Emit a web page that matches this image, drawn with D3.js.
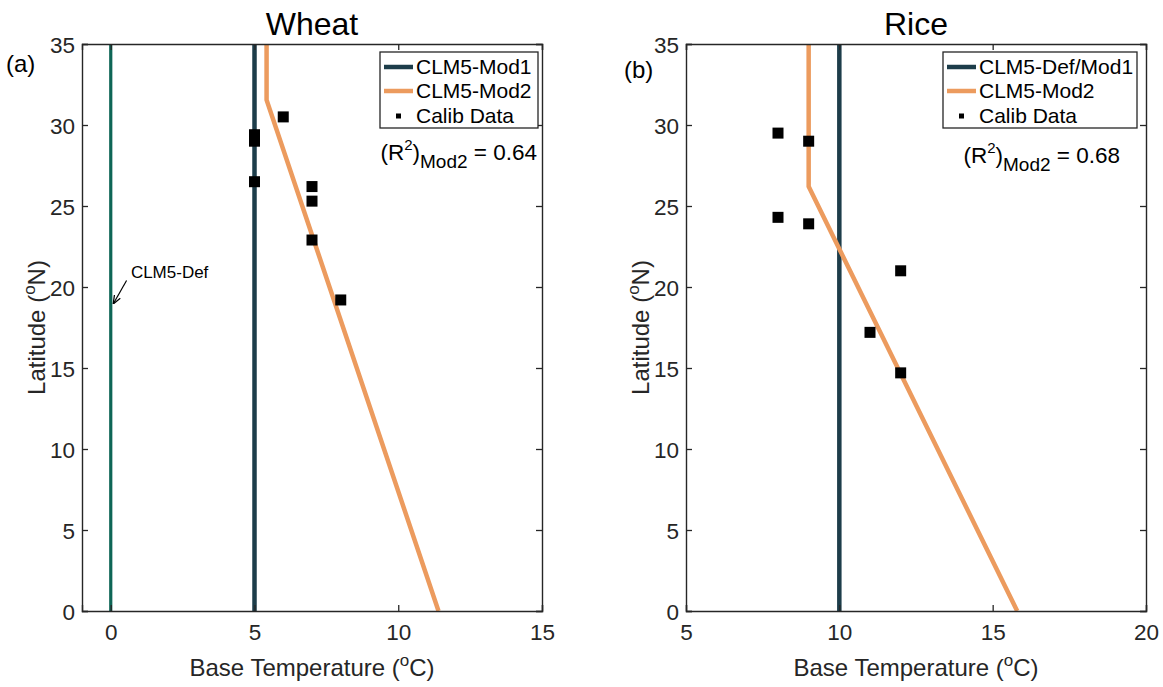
<!DOCTYPE html>
<html>
<head>
<meta charset="utf-8">
<script src="https://cdn.jsdelivr.net/npm/d3@7"></script>
<style>
  body { margin: 0; background: #fff; }
  svg text { font-family: "Liberation Sans", Arial, Helvetica, sans-serif; fill: #262626; }
</style>
</head>
<body>
<div id="chart"></div>
<script>
// Wheat
const wheatCalibTemp = [6, 5, 5, 5, 7, 7, 7, 8];
const wheatCalibLat = [30.5, 29.4, 29.0, 26.5, 26.2, 25.3, 22.9, 19.2];
const wheatMod2Temp = [5.42, 5.42, 11.4];
const wheatMod2Lat = [35, 31.55, 0];
const wheatDefTemp = 0;
const wheatMod1Temp = 5;
const wheatR2 = 0.64;

// Rice
const riceCalibTemp = [8, 9, 8, 9, 12, 11, 12];
const riceCalibLat = [29.5, 29.0, 24.3, 23.9, 21.0, 17.2, 14.7];
const riceMod2Temp = [9, 9, 15.8];
const riceMod2Lat = [35, 26.2, 0];
const riceMod1Temp = 10;
const riceR2 = 0.68;

// axes
const latTicks = [0, 5, 10, 15, 20, 25, 30, 35];
const wheatTempTicks = [0, 5, 10, 15];
const riceTempTicks = [5, 10, 15, 20];

const colors = {
  def: '#0e6656',
  mod1: '#1d3d4a',
  mod2: '#ec9b5e',
  calib: '#000000',
  axis: '#262626'
};

const width = 1163, height = 687;
const svg = d3.select('#chart').append('svg')
  .attr('width', width)
  .attr('height', height);

function drawPanel(opts) {
  const { left, right, top, bottom } = opts;
  const x = d3.scaleLinear().domain(opts.xDomain).range([left, right]);
  const y = d3.scaleLinear().domain([0, 35]).range([bottom, top]);
  const g = svg.append('g');

  // clip to the plot box
  const clipId = 'clip-' + opts.id;
  g.append('clipPath').attr('id', clipId)
    .append('rect')
    .attr('x', left).attr('y', top)
    .attr('width', right - left).attr('height', bottom - top);
  const plot = g.append('g').attr('clip-path', `url(#${clipId})`);

  // vertical reference lines
  if (opts.defTemp !== null) {
    plot.append('line')
      .attr('x1', x(opts.defTemp)).attr('x2', x(opts.defTemp))
      .attr('y1', y(0)).attr('y2', y(35))
      .attr('stroke', colors.def).attr('stroke-width', 3.2);
  }
  plot.append('line')
    .attr('x1', x(opts.mod1Temp)).attr('x2', x(opts.mod1Temp))
    .attr('y1', y(0)).attr('y2', y(35))
    .attr('stroke', colors.mod1).attr('stroke-width', 4.5);

  // Mod2 piecewise line
  const mod2 = opts.mod2Temp.map((t, i) => [t, opts.mod2Lat[i]]);
  plot.append('path')
    .datum(mod2)
    .attr('d', d3.line().x(d => x(d[0])).y(d => y(d[1])))
    .attr('fill', 'none')
    .attr('stroke', colors.mod2)
    .attr('stroke-width', 4.5)
    .attr('stroke-linejoin', 'miter');

  // calibration points
  const pts = opts.calibTemp.map((t, i) => [t, opts.calibLat[i]]);
  const ms = 11;
  plot.selectAll('rect.calib')
    .data(pts)
    .join('rect')
    .attr('class', 'calib')
    .attr('x', d => x(d[0]) - ms / 2)
    .attr('y', d => y(d[1]) - ms / 2)
    .attr('width', ms).attr('height', ms)
    .attr('fill', colors.calib);

  // axes (MATLAB box style, inward ticks)
  const tl = 6;
  const axB = g.append('g').attr('transform', `translate(0,${bottom})`)
    .call(d3.axisBottom(x).tickValues(opts.xTicks).tickSize(-tl).tickPadding(13));
  const axT = g.append('g').attr('transform', `translate(0,${top})`)
    .call(d3.axisTop(x).tickValues(opts.xTicks).tickSize(-tl).tickFormat(''));
  const axL = g.append('g').attr('transform', `translate(${left},0)`)
    .call(d3.axisLeft(y).tickValues(latTicks).tickSize(-tl).tickPadding(7));
  const axR = g.append('g').attr('transform', `translate(${right},0)`)
    .call(d3.axisRight(y).tickValues(latTicks).tickSize(-tl).tickFormat(''));
  [axB, axT, axL, axR].forEach(a => {
    a.select('.domain').attr('stroke', colors.axis).attr('stroke-width', 1.4);
    a.selectAll('.tick line').attr('stroke', colors.axis).attr('stroke-width', 1.3);
    a.selectAll('.tick text').attr('font-size', 22.5).attr('fill', colors.axis)
      .style('font-family', '"Liberation Sans", Arial, sans-serif');
  });
  axL.selectAll('.tick text').attr('dy', '0.36em');

  // title
  g.append('text')
    .attr('x', (left + right) / 2).attr('y', 35)
    .attr('text-anchor', 'middle')
    .attr('font-size', 32)
    .style('fill', '#000')
    .text(opts.title);

  // panel label
  g.append('text')
    .attr('x', opts.tagX).attr('y', opts.tagY)
    .attr('font-size', 24)
    .style('fill', '#000')
    .text(opts.tag);

  // x label with superscript
  const xl = g.append('text')
    .attr('x', (left + right) / 2).attr('y', 676)
    .attr('text-anchor', 'middle')
    .attr('font-size', 24);
  xl.append('tspan').text('Base Temperature (');
  xl.append('tspan').attr('dy', -10).attr('font-size', 17).text('o');
  xl.append('tspan').attr('dy', 10).text('C)');

  // y label with superscript
  const yl = g.append('text')
    .attr('transform', `translate(${left - 37},${(top + bottom) / 2}) rotate(-90)`)
    .attr('text-anchor', 'middle')
    .attr('font-size', 24);
  yl.append('tspan').text('Latitude (');
  yl.append('tspan').attr('dy', -10).attr('font-size', 17).text('o');
  yl.append('tspan').attr('dy', 10).text('N)');

  // R2 annotation
  const r2 = g.append('text')
    .attr('x', opts.r2X).attr('y', opts.r2Y)
    .attr('text-anchor', 'end')
    .attr('font-size', 22.5)
    .style('fill', '#000');
  r2.append('tspan').text('(R');
  r2.append('tspan').attr('dy', -10).attr('font-size', 15).text('2');
  r2.append('tspan').attr('dy', 10).text(')');
  r2.append('tspan').attr('dy', 8).attr('font-size', 19).text('Mod2');
  r2.append('tspan').attr('dy', -8).text(' = ' + opts.r2.toFixed(2));

  // legend
  const lg = g.append('g');
  lg.append('rect')
    .attr('x', opts.legX).attr('y', 52)
    .attr('width', opts.legW).attr('height', 76)
    .attr('fill', '#fff')
    .attr('stroke', colors.axis).attr('stroke-width', 1.3);
  const items = [
    { label: opts.mod1Label, color: colors.mod1, type: 'line', yy: 67 },
    { label: 'CLM5-Mod2', color: colors.mod2, type: 'line', yy: 91 },
    { label: 'Calib Data', color: colors.calib, type: 'marker', yy: 116 }
  ];
  items.forEach(it => {
    const x0 = opts.legX + 4;
    if (it.type === 'line') {
      lg.append('line')
        .attr('x1', x0).attr('x2', x0 + 29)
        .attr('y1', it.yy).attr('y2', it.yy)
        .attr('stroke', it.color).attr('stroke-width', 4.5);
    } else {
      lg.append('rect')
        .attr('x', x0 + 14.5 - 2.5).attr('y', it.yy - 2.5)
        .attr('width', 5).attr('height', 5)
        .attr('fill', it.color);
    }
    lg.append('text')
      .attr('x', x0 + 32).attr('y', it.yy)
      .attr('dy', '0.35em')
      .attr('font-size', 21)
      .style('fill', '#000')
      .text(it.label);
  });

  return { g, x, y };
}

const wheat = drawPanel({
  id: 'wheat', title: 'Wheat', tag: '(a)', tagX: 6, tagY: 72,
  left: 82, right: 542, top: 44, bottom: 611,
  xDomain: [-1, 15], xTicks: wheatTempTicks,
  defTemp: wheatDefTemp, mod1Temp: wheatMod1Temp,
  mod2Temp: wheatMod2Temp, mod2Lat: wheatMod2Lat,
  calibTemp: wheatCalibTemp, calibLat: wheatCalibLat,
  mod1Label: 'CLM5-Mod1', r2: wheatR2, r2X: 537, r2Y: 160,
  legX: 380, legW: 158
});

drawPanel({
  id: 'rice', title: 'Rice', tag: '(b)', tagX: 624, tagY: 78,
  left: 686, right: 1146, top: 44, bottom: 611,
  xDomain: [5, 20], xTicks: riceTempTicks,
  defTemp: null, mod1Temp: riceMod1Temp,
  mod2Temp: riceMod2Temp, mod2Lat: riceMod2Lat,
  calibTemp: riceCalibTemp, calibLat: riceCalibLat,
  mod1Label: 'CLM5-Def/Mod1', r2: riceR2, r2X: 1120, r2Y: 163,
  legX: 943, legW: 194
});

// CLM5-Def arrow annotation (wheat panel)
const defs = svg.append('defs');
defs.append('marker')
  .attr('id', 'arrowhead')
  .attr('viewBox', '0 0 10 10')
  .attr('refX', 9).attr('refY', 5)
  .attr('markerWidth', 7).attr('markerHeight', 7)
  .attr('orient', 'auto')
  .append('path')
  .attr('d', 'M0,1 L10,5 L0,9')
  .attr('fill', 'none')
  .attr('stroke', '#000')
  .attr('stroke-width', 1.5);

wheat.g.append('line')
  .attr('x1', wheat.x(0.55)).attr('y1', wheat.y(20.4))
  .attr('x2', wheat.x(0.1)).attr('y2', wheat.y(19.0))
  .attr('stroke', '#000').attr('stroke-width', 1.2)
  .attr('marker-end', 'url(#arrowhead)');
wheat.g.append('text')
  .attr('x', wheat.x(0.7)).attr('y', wheat.y(20.55))
  .attr('font-size', 17)
  .style('fill', '#000')
  .text('CLM5-Def');
</script>
</body>
</html>
